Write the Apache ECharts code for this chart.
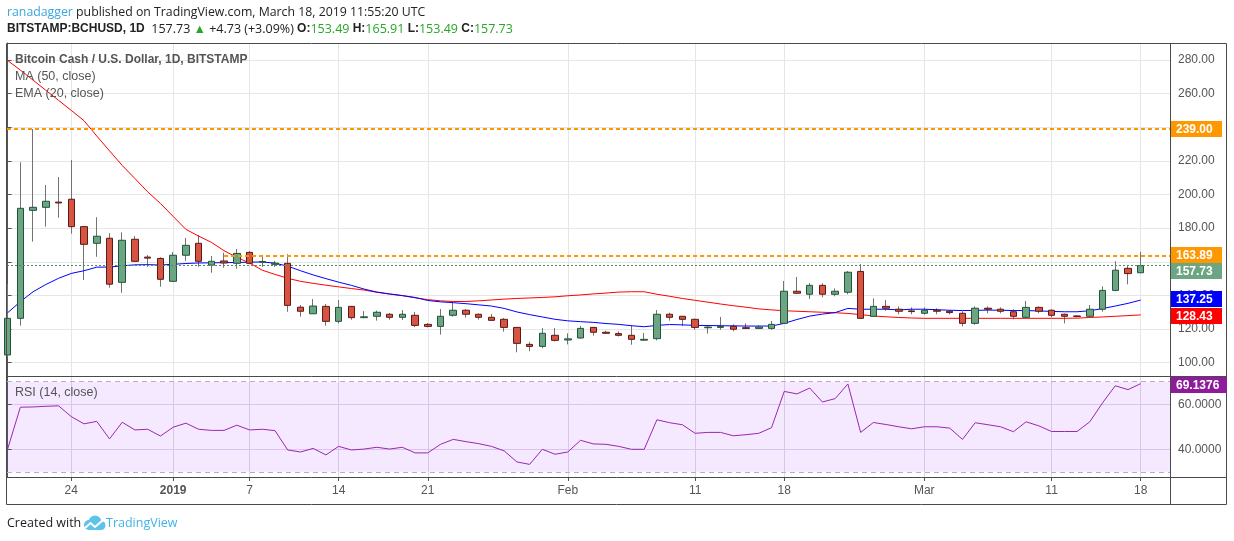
<!DOCTYPE html>
<html>
<head>
<meta charset="utf-8">
<title>BCHUSD 1D</title>
<script src="https://cdn.jsdelivr.net/npm/echarts@6/dist/echarts.min.js"></script>
<style>
  html, body { margin: 0; padding: 0; background: #fff; }
  #chart { width: 1234px; height: 541px; }
</style>
</head>
<body>
<div id="chart"></div>
<script>
// daily candles, index 0 = 2018-12-19 ... index 89 = 2019-03-18
var openVals = [
  104.6, 126.4, 190.6, 192.4, 195.5, 197.2, 180.9, 171.0, 174.0, 147.8,
  173.4, 162.8, 162.0, 148.4, 163.9, 171.0, 158.0, 160.5, 159.1, 165.6,
  159.8, 158.5, 159.1, 133.0, 129.1, 133.5, 124.6, 133.5, 126.8, 127.6,
  128.8, 127.0, 128.2, 122.8, 121.6, 128.2, 131.2, 128.8, 127.0, 125.8,
  121.0, 110.9, 109.7, 116.3, 113.5, 114.7, 121.0, 118.1, 117.3, 116.3,
  113.4, 114.3, 128.8, 127.6, 125.8, 120.8, 121.0, 121.6, 120.8, 120.4,
  120.4, 123.4, 142.5, 140.7, 146.0, 140.7, 141.9, 154.3, 127.6, 133.5,
  131.8, 130.8, 129.4, 131.2, 130.6, 129.4, 123.4, 132.4, 131.8, 130.3,
  127.0, 132.9, 131.2, 128.8, 127.8, 127.6, 131.8, 143.0, 156.1, 153.49
];
var highVals = [
  146.8, 219.2, 239.0, 205.7, 210.4, 220.5, 181.0, 186.5, 177.0, 177.5,
  175.3, 164.0, 162.7, 165.8, 174.2, 175.8, 163.5, 165.4, 167.6, 166.4,
  163.0, 160.5, 164.5, 134.3, 137.9, 134.9, 137.3, 133.7, 130.7, 131.0,
  129.6, 131.3, 130.2, 123.6, 131.9, 135.9, 131.9, 129.2, 129.0, 126.6,
  121.2, 112.3, 120.6, 120.6, 117.5, 121.8, 121.2, 119.0, 118.6, 122.2,
  117.7, 131.3, 129.8, 127.8, 126.2, 122.2, 127.2, 122.8, 123.4, 122.2,
  124.8, 148.6, 151.0, 147.4, 147.2, 144.2, 154.5, 158.7, 138.3, 137.3,
  133.5, 132.9, 132.9, 132.4, 131.2, 130.6, 133.5, 133.5, 132.9, 131.8,
  136.7, 133.5, 131.8, 129.2, 128.2, 134.3, 145.4, 160.3, 157.7, 165.91
];
var lowVals = [
  103.4, 122.0, 172.0, 180.9, 186.2, 176.7, 149.2, 163.0, 144.6, 141.6,
  160.0, 157.0, 145.2, 148.0, 160.5, 157.0, 153.5, 156.5, 155.9, 158.6,
  157.0, 157.0, 130.3, 127.4, 129.0, 122.0, 123.4, 125.6, 126.5, 125.0,
  125.6, 125.4, 121.2, 121.0, 116.7, 127.4, 126.8, 125.6, 125.0, 118.5,
  106.2, 106.8, 108.6, 112.7, 110.9, 114.3, 116.1, 117.2, 115.6, 110.7,
  113.2, 113.3, 125.0, 121.8, 119.6, 117.3, 119.6, 118.7, 120.3, 120.0,
  119.6, 123.0, 141.0, 137.9, 138.9, 139.5, 140.7, 126.0, 127.3, 130.9,
  128.8, 128.8, 128.6, 128.8, 128.8, 121.6, 122.6, 129.4, 129.4, 125.8,
  126.8, 129.4, 127.0, 123.4, 127.0, 127.3, 130.3, 142.5, 146.6, 153.49
];
var closeVals = [
  126.4, 191.8, 192.4, 196.0, 195.0, 180.9, 170.4, 175.2, 146.7, 172.8,
  160.3, 162.2, 149.6, 163.9, 169.8, 160.3, 160.3, 159.3, 165.0, 159.1,
  160.2, 159.2, 134.1, 130.6, 133.7, 124.6, 132.9, 126.8, 127.3, 130.0,
  127.0, 128.8, 122.2, 121.6, 127.6, 131.2, 128.8, 127.0, 125.2, 121.0,
  111.5, 109.7, 117.5, 113.3, 114.2, 120.4, 118.1, 117.5, 116.3, 113.9,
  113.9, 128.8, 127.0, 125.8, 121.0, 121.2, 121.6, 119.9, 120.4, 121.2,
  122.8, 142.5, 141.3, 146.0, 140.7, 142.5, 153.8, 126.4, 133.5, 132.4,
  130.6, 130.4, 131.2, 130.6, 129.8, 123.4, 132.4, 131.8, 130.6, 127.6,
  132.9, 130.6, 128.2, 127.6, 127.5, 131.8, 143.0, 155.0, 153.0, 157.73
];
// MA (50, close) - red
var ma50Vals = [
  279.7, 274.0, 268.0, 262.0, 256.0, 250.0, 243.9, 234.8, 226.0, 217.3,
  209.5, 201.6, 194.7, 187.0, 179.3, 175.3, 171.6, 166.6, 162.7, 159.3,
  155.0, 152.5, 150.2, 148.4, 147.2, 146.1, 145.1, 144.1, 143.2, 141.9,
  140.8, 139.9, 138.6, 137.5, 136.8, 136.4, 136.4, 136.8, 137.3, 137.8,
  138.2, 138.5, 138.8, 139.2, 139.8, 140.3, 140.9, 141.4, 142.0, 142.2,
  142.2, 140.7, 139.5, 138.2, 137.1, 136.0, 134.9, 133.9, 133.0, 132.0,
  131.4, 130.9, 130.6, 130.3, 130.0, 129.7, 129.3, 128.6, 127.8, 127.3,
  126.9, 126.6, 126.4, 126.4, 126.4, 126.4, 126.4, 126.4, 126.4, 126.4,
  126.4, 126.4, 126.4, 126.4, 126.5, 126.9, 127.2, 127.6, 128.0, 128.43
];
// EMA (20, close) - blue
var ema20Vals = [
  129.7, 136.3, 142.2, 146.5, 150.2, 153.1, 154.7, 156.8, 156.9, 157.6,
  158.2, 158.3, 158.1, 158.5, 159.0, 159.3, 159.4, 159.5, 159.6, 159.8,
  159.9, 159.2, 157.4, 154.7, 152.2, 150.0, 147.9, 146.0, 143.8, 142.0,
  140.9, 139.9, 138.8, 137.0, 136.2, 135.7, 135.1, 134.4, 133.7, 132.3,
  130.2, 128.6, 127.2, 125.8, 124.9, 124.4, 124.0, 123.3, 122.8, 122.0,
  121.4, 122.2, 122.7, 122.5, 122.2, 122.1, 122.0, 121.9, 121.8, 121.8,
  121.8, 123.4, 125.7, 127.7, 128.9, 129.8, 132.3, 131.8, 131.8, 131.8,
  131.4, 131.8, 131.8, 131.5, 131.2, 131.0, 131.1, 131.3, 131.2, 131.0,
  131.0, 130.8, 130.5, 130.3, 130.3, 130.9, 132.2, 133.7, 135.3, 137.25
];
// RSI (14, close)
var rsiVals = [
  40.1, 58.7, 58.8, 59.1, 59.3, 54.5, 51.3, 52.4, 44.6, 52.0,
  48.6, 48.9, 45.9, 49.8, 51.6, 48.9, 48.4, 48.4, 50.7, 48.6,
  48.9, 48.3, 39.7, 38.8, 40.4, 37.5, 41.3, 39.7, 40.1, 40.9,
  40.1, 40.9, 38.4, 38.4, 42.2, 44.4, 43.4, 42.5, 41.3, 39.3,
  34.4, 33.3, 40.0, 37.8, 38.8, 44.0, 42.4, 42.2, 41.3, 40.0,
  40.0, 53.1, 51.8, 50.9, 47.1, 47.5, 47.5, 46.0, 46.5, 47.1,
  49.6, 65.7, 64.6, 67.2, 61.0, 62.5, 69.0, 47.5, 51.9, 51.0,
  50.0, 49.1, 50.0, 50.0, 49.4, 44.4, 51.8, 50.9, 50.0, 47.8,
  52.2, 50.4, 47.9, 47.9, 47.9, 52.2, 60.6, 68.2, 66.5, 69.1376
];

var tickIndex = [5, 13, 19, 26, 33, 44, 54, 61, 72, 82, 89];
var tickLabels = ['24', '2019', '7', '14', '21', 'Feb', '11', '18', 'Mar', '11', '18'];
var priceTicks = [100, 120, 140, 160, 180, 200, 220, 240, 260, 280];
var rsiTicks = [40, 60];
var resistanceTop = 239.00;
var resistanceLow = 163.89;
var resistanceLowStart = 17;
var lastPrice = 157.73;
var lastRsi = 69.1376;

var FONT = '"Liberation Sans", Arial, sans-serif';
var AXIS_TEXT = '#555555';
var GRID_LINE = '#e6e6e6';
var X_MIN = -0.05;
var X_MAX = 91.3;

var chart = echarts.init(document.getElementById('chart'));

var idx = closeVals.map(function (v, i) { return i; });
var wickData = idx.map(function (i) {
  return [i, openVals[i], closeVals[i], lowVals[i], highVals[i]];
});
var bodyData = idx.map(function (i) {
  return [i, openVals[i], closeVals[i],
          Math.min(openVals[i], closeVals[i]), Math.max(openVals[i], closeVals[i])];
});
var ma50Data = idx.map(function (i) { return [i, ma50Vals[i]]; });
var ema20Data = idx.map(function (i) { return [i, ema20Vals[i]]; });
var rsiData = idx.map(function (i) { return [i, rsiVals[i]]; });

function xAxisFor(gridIndex, showLabels) {
  return {
    type: 'value', gridIndex: gridIndex, min: X_MIN, max: X_MAX,
    axisLine: { show: false },
    axisTick: { show: showLabels, length: 4, lineStyle: { color: AXIS_TEXT },
                customValues: tickIndex },
    axisLabel: {
      show: showLabels, customValues: tickIndex, margin: 8,
      color: AXIS_TEXT, fontFamily: FONT, fontSize: 12,
      formatter: function (v) {
        var k = tickIndex.indexOf(Math.round(v));
        if (k < 0) return '';
        return tickLabels[k] === '2019' ? '{b|2019}' : tickLabels[k];
      },
      rich: { b: { fontWeight: 'bold', color: AXIS_TEXT, fontFamily: FONT, fontSize: 12 } }
    },
    splitLine: { show: true, lineStyle: { color: gridIndex === 0 ? GRID_LINE : '#e2d6ea' } }
  };
}

function priceLabel(v) { return v.toFixed(2); }
function rsiLabel(v) { return v.toFixed(4); }

var baseGraphic = [
  // chart frame
  { type: 'rect', silent: true, z: 10,
    shape: { x: 6.5, y: 43.5, width: 1220, height: 461 },
    style: { fill: 'none', stroke: '#4a4a4a', lineWidth: 1 } },
  { type: 'line', silent: true, z: 10, shape: { x1: 6.5, y1: 376.5, x2: 1226.5, y2: 376.5 },
    style: { stroke: '#4a4a4a', lineWidth: 1 } },
  { type: 'line', silent: true, z: 10, shape: { x1: 6.5, y1: 477.5, x2: 1226.5, y2: 477.5 },
    style: { stroke: '#4a4a4a', lineWidth: 1 } },
  { type: 'line', silent: true, z: 10, shape: { x1: 1170.5, y1: 43.5, x2: 1170.5, y2: 504.5 },
    style: { stroke: '#4a4a4a', lineWidth: 1 } },
  // header
  { type: 'text', silent: true, x: 7, y: 12,
    style: { text: '{u|ranadagger} published on TradingView.com, March 18, 2019 11:55:20 UTC',
             font: '12.3px "Open Sans", sans-serif', fill: '#222', verticalAlign: 'middle',
             rich: { u: { fill: '#3ba5e0', font: '12.3px "Open Sans", sans-serif' } } } },
  { type: 'text', silent: true, x: 7, y: 29,
    style: { text: '{b|BITSTAMP:BCHUSD, 1D}  157.73 {g|▲} +4.73 (+3.09%) {b|O:}{g|153.49} {b|H:}{g|165.91} {b|L:}{g|153.49} {b|C:}{g|157.73}',
             font: '12.5px "Open Sans", sans-serif', fill: '#222', verticalAlign: 'middle',
             rich: {
               b: { fontWeight: 'bold', fill: '#222', font: 'bold 12.5px "Open Sans", sans-serif' },
               g: { fill: '#26a626', font: '12.5px "Open Sans", sans-serif' }
             } } },
  // legend inside the price pane
  { type: 'text', silent: true, x: 15, y: 60, z: 11,
    style: { text: 'Bitcoin Cash / U.S. Dollar, 1D, BITSTAMP', font: 'bold 12px ' + FONT,
             fill: '#555', verticalAlign: 'middle' } },
  { type: 'text', silent: true, x: 15, y: 77, z: 11,
    style: { text: 'MA (50, close)', font: '12.5px ' + FONT, fill: '#555', verticalAlign: 'middle' } },
  { type: 'text', silent: true, x: 15, y: 94, z: 11,
    style: { text: 'EMA (20, close)', font: '12.5px ' + FONT, fill: '#555', verticalAlign: 'middle' } },
  { type: 'text', silent: true, x: 15, y: 393, z: 11,
    style: { text: 'RSI (14, close)', font: '12.5px ' + FONT, fill: '#555', verticalAlign: 'middle' } },
  // footer
  { type: 'text', silent: true, x: 7, y: 523,
    style: { text: 'Created with', font: '12.5px "Open Sans", sans-serif', fill: '#222',
             verticalAlign: 'middle' } },
  { type: 'group', x: 83, y: 515, silent: true, children: [
    { type: 'circle', shape: { cx: 6, cy: 10, r: 5 }, style: { fill: '#5cc3ea' } },
    { type: 'circle', shape: { cx: 12, cy: 7, r: 6.5 }, style: { fill: '#5cc3ea' } },
    { type: 'circle', shape: { cx: 18, cy: 10.5, r: 4.5 }, style: { fill: '#5cc3ea' } },
    { type: 'rect', shape: { x: 6, y: 9, width: 12, height: 6 }, style: { fill: '#5cc3ea' } },
    { type: 'polyline', shape: { points: [[2, 13], [7.5, 8], [12, 12], [20, 5]] },
      style: { stroke: '#ffffff', lineWidth: 2, fill: null } }
  ] },
  { type: 'text', silent: true, x: 106, y: 523,
    style: { text: 'TradingView', font: '12.5px "Open Sans", sans-serif', fill: '#3cb4e7',
             verticalAlign: 'middle' } }
];

var option = {
  animation: false,
  backgroundColor: '#ffffff',
  grid: [
    { left: 7, right: 64, top: 43, height: 333 },
    { left: 7, right: 64, top: 377, height: 100 }
  ],
  xAxis: [xAxisFor(0, false), xAxisFor(1, true)],
  yAxis: [
    {
      type: 'value', gridIndex: 0, position: 'right', min: 92.1, max: 290.1,
      axisLine: { show: true, lineStyle: { color: '#555' } },
      axisTick: { show: true, length: 4, customValues: priceTicks, lineStyle: { color: '#555' } },
      axisLabel: { customValues: priceTicks, color: AXIS_TEXT, fontFamily: FONT, fontSize: 12,
                   margin: 8, showMinLabel: true, showMaxLabel: true, hideOverlap: false,
                   formatter: priceLabel },
      splitLine: { show: true, lineStyle: { color: GRID_LINE } }
    },
    {
      type: 'value', gridIndex: 1, position: 'right', min: 27.7, max: 72.1,
      axisLine: { show: true, lineStyle: { color: '#555' } },
      axisTick: { show: true, length: 4, customValues: rsiTicks, lineStyle: { color: '#555' } },
      axisLabel: { customValues: rsiTicks, color: AXIS_TEXT, fontFamily: FONT, fontSize: 12,
                   margin: 8, showMinLabel: true, showMaxLabel: true, formatter: rsiLabel },
      splitLine: { show: true, lineStyle: { color: '#e2d6ea' } }
    }
  ],
  series: [
    {
      name: 'wicks', type: 'candlestick', xAxisIndex: 0, yAxisIndex: 0,
      barWidth: 1, data: wickData, z: 2,
      itemStyle: { color: '#737375', color0: '#737375', borderColor: '#737375',
                   borderColor0: '#737375', borderWidth: 1 }
    },
    {
      name: 'MA (50, close)', type: 'line', xAxisIndex: 0, yAxisIndex: 0,
      data: ma50Data, showSymbol: false, symbol: 'none', z: 3,
      lineStyle: { color: '#ff0000', width: 1 }
    },
    {
      name: 'EMA (20, close)', type: 'line', xAxisIndex: 0, yAxisIndex: 0,
      data: ema20Data, showSymbol: false, symbol: 'none', z: 3,
      lineStyle: { color: '#0000ff', width: 1 }
    },
    {
      name: 'BCHUSD', type: 'candlestick', xAxisIndex: 0, yAxisIndex: 0,
      barWidth: 7, data: bodyData, z: 4,
      itemStyle: { color: '#6ba583', color0: '#d75442', borderColor: '#225437',
                   borderColor0: '#5b1a13', borderWidth: 1 },
      markLine: {
        silent: true, symbol: ['none', 'none'], label: { show: false },
        data: [
          { yAxis: lastPrice, lineStyle: { color: '#4f8a68', width: 1, type: [2, 2] } },
          { yAxis: resistanceTop, lineStyle: { color: '#ff9800', width: 2, type: [4, 3] } },
          [
            { coord: [resistanceLowStart, resistanceLow],
              lineStyle: { color: '#ff9800', width: 2, type: [4, 3] } },
            { coord: [X_MAX, resistanceLow] }
          ]
        ]
      }
    },
    {
      name: 'RSI (14, close)', type: 'line', xAxisIndex: 1, yAxisIndex: 1,
      data: rsiData, showSymbol: false, symbol: 'none', z: 3,
      lineStyle: { color: '#9c27b0', width: 1 },
      markArea: {
        silent: true,
        itemStyle: { color: 'rgba(153, 51, 255, 0.11)' },
        data: [[{ yAxis: 30 }, { yAxis: 70 }]]
      },
      markLine: {
        silent: true, symbol: ['none', 'none'], label: { show: false },
        data: [
          { yAxis: 70, lineStyle: { color: '#bbaec4', width: 1, type: [5, 4] } },
          { yAxis: 30, lineStyle: { color: '#bbaec4', width: 1, type: [5, 4] } }
        ]
      }
    }
  ],
  graphic: baseGraphic
};

chart.setOption(option);

// price tags on the right axis, placed through the axis scales
function axisTag(axisIndex, value, text, bg, dy, width) {
  var y = chart.convertToPixel({ yAxisIndex: axisIndex }, value) + dy;
  return {
    type: 'group', x: 1171, y: Math.round(y - 8), silent: true,
    children: [
      { type: 'rect', z: 100, shape: { x: 0, y: 0, width: width, height: 16 },
        style: { fill: bg } },
      { type: 'text', z: 101, x: 5, y: 8.5,
        style: { text: text, font: 'bold 12px ' + FONT, fill: '#ffffff', verticalAlign: 'middle' } }
    ]
  };
}

var tags = [
  axisTag(0, resistanceTop, priceLabel(resistanceTop), '#ff9800', 0, 51),
  axisTag(0, resistanceLow, priceLabel(resistanceLow), '#ff9800', 0, 51),
  axisTag(0, lastPrice, priceLabel(lastPrice), '#6ba583', 5.5, 51),
  axisTag(0, ema20Vals[ema20Vals.length - 1], priceLabel(ema20Vals[ema20Vals.length - 1]), '#0000ff', -1.4, 51),
  axisTag(0, ma50Vals[ma50Vals.length - 1], priceLabel(ma50Vals[ma50Vals.length - 1]), '#ff0000', 1.4, 51),
  axisTag(1, lastRsi, rsiLabel(lastRsi), '#8e1b9c', 1.3, 56)
];
chart.setOption({ graphic: baseGraphic.concat(tags) });
</script>
</body>
</html>
